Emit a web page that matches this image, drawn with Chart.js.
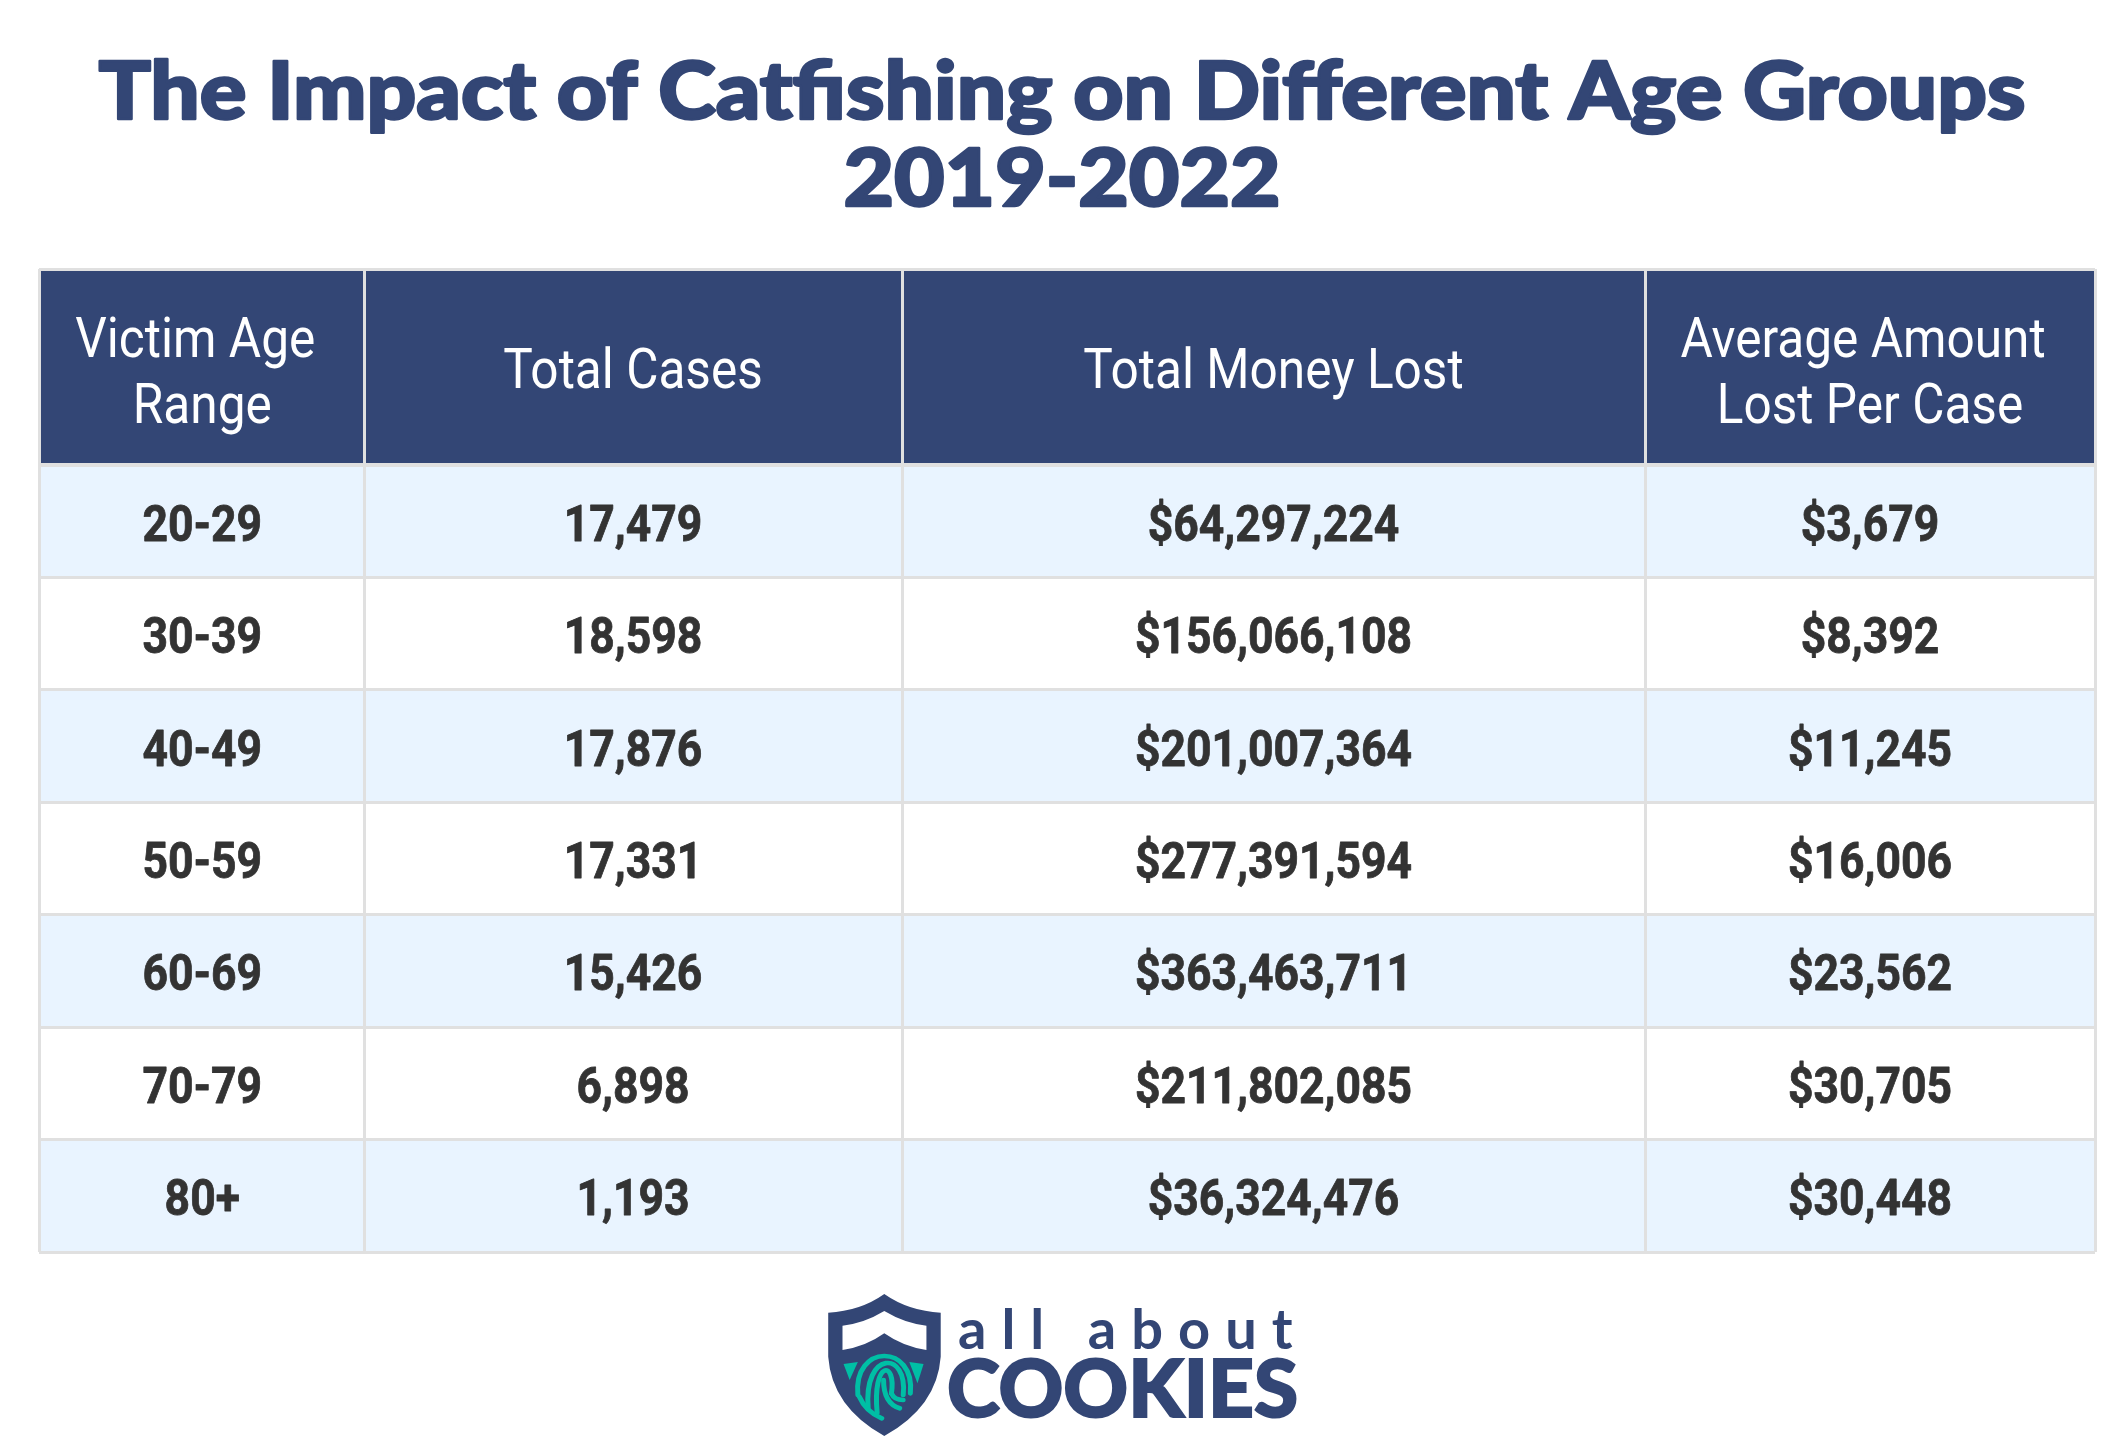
<!DOCTYPE html>
<html>
<head>
<meta charset="utf-8">
<title>The Impact of Catfishing on Different Age Groups</title>
<script src="https://cdn.jsdelivr.net/npm/chart.js@4"></script>
<style>
    html, body { margin: 0; padding: 0; background: #fff; }
    canvas { display: block; }
</style>
</head>
<body>
<canvas id="tabela" width="2125" height="1453"></canvas>
<script>
// Dados da tabela
const titleLines = ['The Impact of Catfishing on Different Age Groups', '2019-2022'];
const headerLabels = [['Victim Age', 'Range'], ['Total Cases'], ['Total Money Lost'], ['Average Amount', 'Lost Per Case']];
const ageRanges = ['20-29', '30-39', '40-49', '50-59', '60-69', '70-79', '80+'];
const totalCases = ['17,479', '18,598', '17,876', '17,331', '15,426', '6,898', '1,193'];
const totalMoneyLost = ['$64,297,224', '$156,066,108', '$201,007,364', '$277,391,594', '$363,463,711', '$211,802,085', '$36,324,476'];
const averageLost = ['$3,679', '$8,392', '$11,245', '$16,006', '$23,562', '$30,705', '$30,448'];
const bodyColumns = [ageRanges, totalCases, totalMoneyLost, averageLost];

// Layout das colunas (largura em px)
const columnWidths = [325, 538, 743, 450];
const navy = '#334675';
const gridColor = '#e0e0e0';

const rowFills = ageRanges.map((_, i) => (i % 2 === 0 ? '#e9f4ff' : '#ffffff'));

const datasets = [];
columnWidths.forEach((w, c) => {
    datasets.push({
        label: 'head' + c,
        data: [w],
        yAxisID: 'yHead',
        backgroundColor: navy,
        grouped: false,
        barPercentage: 1,
        categoryPercentage: 1
    });
});
columnWidths.forEach((w, c) => {
    datasets.push({
        label: 'body' + c,
        data: ageRanges.map(() => w),
        yAxisID: 'yBody',
        backgroundColor: rowFills,
        grouped: false,
        barPercentage: 1,
        categoryPercentage: 1
    });
});

// Texto condensado: não há Roboto Condensed, então estreita a Roboto
function condensedText(ctx, text, x, y, font, color, sx, stroke) {
    ctx.save();
    ctx.translate(x, y);
    ctx.scale(sx, 1);
    ctx.font = font;
    ctx.fillStyle = color;
    ctx.textAlign = 'center';
    ctx.textBaseline = 'alphabetic';
    ctx.fillText(text, 0, 0);
    if (stroke) {
        ctx.strokeStyle = color;
        ctx.lineWidth = stroke;
        ctx.lineJoin = 'round';
        ctx.strokeText(text, 0, 0);
    }
    ctx.restore();
}

const cellText = {
    id: 'cellText',
    afterDraw(chart) {
        const ctx = chart.ctx;
        titleLines.forEach((line, l) => {
            condensedText(ctx, line, 1062, 119 + l * 87, '900 80px Lato', navy, 1.09, 2.5);
        });
        columnWidths.forEach((_, c) => {
            const bar = chart.getDatasetMeta(c).data[0];
            const p = bar.getCenterPoint();
            const lines = headerLabels[c];
            lines.forEach((line, l) => {
                const dy = lines.length === 1 ? 21 : (l === 0 ? -10 : 56);
                // a primeira linha de cabeçalhos com duas linhas fica um pouco à esquerda
                const dx = lines.length === 2 && l === 0 ? -7 : 0;
                condensedText(ctx, line, p.x + dx, p.y + dy, '400 56px Roboto', '#ffffff', 0.885);
            });
            bodyColumns[c].forEach((txt, r) => {
                const cell = chart.getDatasetMeta(c + columnWidths.length).data[r].getCenterPoint();
                condensedText(ctx, txt, cell.x, cell.y + 19.5, '700 50px Roboto', '#333333', 0.89, 0.8);
            });
        });
    }
};

// Logo desenhado em coordenadas próprias
const logo = {
    id: 'logo',
    afterDraw(chart) {
        const ctx = chart.ctx;
        ctx.save();
        ctx.translate(780, 1230);
        ctx.scale(1 / 2.8, 1 / 3);
        ctx.fillStyle = navy;
        ctx.beginPath();
        ctx.moveTo(292, 192);
        ctx.quadraticCurveTo(225, 243, 135, 248);
        ctx.lineTo(135, 380);
        ctx.quadraticCurveTo(145, 530, 292, 618);
        ctx.quadraticCurveTo(440, 530, 450, 380);
        ctx.lineTo(450, 248);
        ctx.quadraticCurveTo(360, 243, 292, 192);
        ctx.fill();
        ctx.fillStyle = '#ffffff';
        ctx.beginPath();
        ctx.moveTo(292, 243);
        ctx.quadraticCurveTo(235, 280, 175, 287);
        ctx.lineTo(175, 360);
        ctx.quadraticCurveTo(240, 350, 292, 310);
        ctx.quadraticCurveTo(345, 350, 410, 360);
        ctx.lineTo(410, 287);
        ctx.quadraticCurveTo(350, 280, 292, 243);
        ctx.fill();
        // digital em verde
        ctx.strokeStyle = '#00bfa5';
        ctx.fillStyle = '#00bfa5';
        ctx.lineWidth = 14;
        ctx.lineCap = 'round';
        [[218, 495, 365, 490, 340], [247, 535, 345, 495, 361], [272, 548, 312, 490, 390]].forEach(a => {
            ctx.beginPath();
            ctx.moveTo(a[0], a[1]);
            ctx.bezierCurveTo(a[0] - 14, a[4], a[2] + 14, a[4], a[2], a[3]);
            ctx.stroke();
        });
        ctx.beginPath();
        ctx.moveTo(222, 500);
        ctx.quadraticCurveTo(240, 545, 285, 565);
        ctx.moveTo(290, 450);
        ctx.quadraticCurveTo(290, 520, 335, 535);
        ctx.moveTo(312, 490);
        ctx.quadraticCurveTo(320, 510, 345, 510);
        ctx.stroke();
        ctx.beginPath();
        ctx.moveTo(178, 402); ctx.lineTo(218, 396); ctx.lineTo(195, 450);
        ctx.fill();
        ctx.beginPath();
        ctx.moveTo(402, 402); ctx.lineTo(362, 396); ctx.lineTo(385, 460);
        ctx.fill();
        ctx.restore();

        ctx.fillStyle = navy;
        ctx.textAlign = 'left';
        ctx.textBaseline = 'alphabetic';
        ctx.font = '700 56px Lato';
        ctx.letterSpacing = '15px';
        ctx.fillText('all about', 958, 1349);
        ctx.letterSpacing = '0px';
        ctx.font = '900 80px Lato';
        ctx.save();
        ctx.translate(947, 1417);
        ctx.strokeStyle = navy;
        ctx.lineWidth = 2;
        ctx.fillText('COOKIES', 0, 0);
        ctx.strokeText('COOKIES', 0, 0);
        ctx.restore();
    }
};

new Chart(document.getElementById('tabela').getContext('2d'), {
    type: 'bar',
    data: { datasets: datasets },
    plugins: [cellText, logo],
    options: {
        indexAxis: 'y',
        responsive: false,
        animation: false,
        layout: { padding: { left: 39, right: 30, top: 269, bottom: 201 } },
        plugins: {
            legend: { display: false },
            tooltip: { enabled: false }
        },
        scales: {
            x: {
                type: 'linear',
                stacked: true,
                min: 0,
                max: columnWidths.reduce((a, b) => a + b, 0),
                afterBuildTicks(scale) {
                    let soma = 0;
                    const marks = [{ value: 0 }];
                    columnWidths.forEach(w => { soma += w; marks.push({ value: soma }); });
                    scale.ticks = marks;
                },
                ticks: { display: false },
                border: { display: false },
                grid: { color: gridColor, lineWidth: 3, z: 1, drawTicks: false }
            },
            yBody: {
                type: 'category',
                labels: ageRanges,
                stacked: true,
                stack: 'tabela',
                stackWeight: 787,
                offset: true,
                position: 'left',
                ticks: { display: false },
                border: { display: false },
                grid: { color: gridColor, lineWidth: 3, z: 1, drawTicks: false }
            },
            yHead: {
                type: 'category',
                labels: ['Header'],
                stacked: true,
                stack: 'tabela',
                stackWeight: 196,
                offset: true,
                position: 'left',
                ticks: { display: false },
                border: { display: false },
                grid: { color: gridColor, lineWidth: 3, z: 1, drawTicks: false }
            }
        }
    }
});
</script>
</body>
</html>
